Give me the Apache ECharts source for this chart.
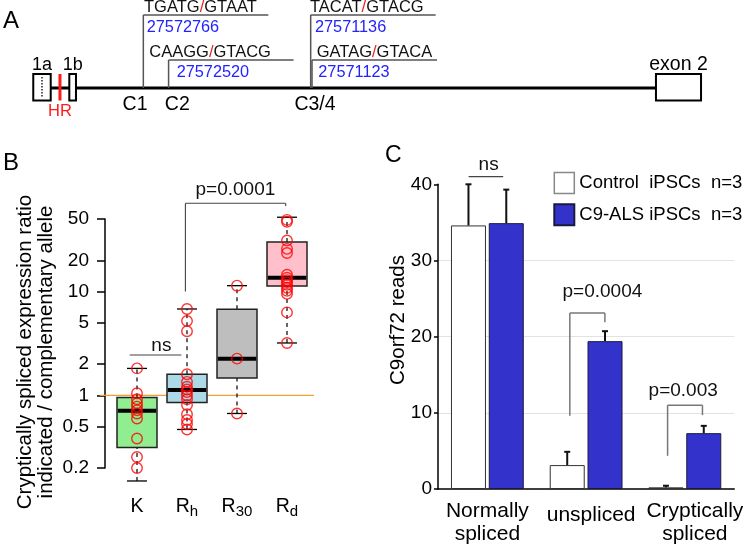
<!DOCTYPE html>
<html><head><meta charset="utf-8">
<script src="https://cdn.jsdelivr.net/npm/echarts@6/dist/echarts.min.js"></script>
<style>html,body{margin:0;padding:0;background:#fff}#c{width:746px;height:545px}</style>
</head><body><div id="c"></div>
<script>
const FONT = '"Liberation Sans", Arial, Helvetica, sans-serif';

// ---------- Panel A: C9orf72 5' region (genomic coordinates) ----------
const aRange = [27566896, 27574162];
const siteNames = ['C1', 'C2', 'C3', 'C4'];
const sitePos = [27572766, 27572520, 27571136, 27571123];
const siteSeqLeft = ['TGATG', 'CAAGG', 'TACAT', 'GATAG'];
const siteSeqRight = ['GTAAT', 'GTACG', 'GTACG', 'GTACA'];
const siteTier = [2, 1, 2, 1];
const siteLabels = ['C1', 'C2', 'C3/4'];
const siteLabelPos = [27572766, 27572520, 27571136];
const exonNames = ['1a', '1b', 'exon 2'];
const exonStart = [27573838, 27573487, 27567773];
const exonEnd = [27573668, 27573422, 27567334];
const exonDotted = [true, false, false];
const hrName = 'HR';
const hrPos = 27573578;

// ---------- Panel B: cryptic splicing ratio (log scale) ----------
const bCatMain = ['K', 'R', 'R', 'R'];
const bCatSub = ['', 'h', '30', 'd'];
const bTicks = [0.2, 0.5, 1, 2, 5, 10, 20, 50];
const bK = [1.82, 1.05, 0.92, 0.84, 0.78, 0.72, 0.67, 0.60, 0.385, 0.255, 0.20, 0.15];
const bRh = [6.8, 5.2, 4.15, 1.6, 1.35, 1.21, 1.14, 1.08, 1.0, 0.92, 0.81, 0.66, 0.58, 0.53, 0.47];
const bR30 = [11.4, 2.26, 0.67];
const bRd = [54, 52, 49, 47, 31, 25.8, 23.5, 14.5, 13.6, 12.9, 12.3, 11.6, 10.9, 10.2, 9.5, 6.3, 3.2];
// [min, Q1, median, Q3, max]
const bBoxK = [0.15, 0.315, 0.71, 0.956, 1.82];
const bBoxRh = [0.47, 0.856, 1.125, 1.6, 6.8];
const bBoxR30 = [0.67, 1.47, 2.26, 6.76, 11.4];
const bBoxRd = [3.2, 11.3, 13.6, 30, 52];
const bRef = 1;
// brackets: category positions (fractional), y values, text
const bBrLeft = [-0.146, 0.968];
const bBrRight = [0.888, 2.974];
const bBrTop = [2.45, 70.8];
const bBrLeftEnd = [2.45, 10];
const bBrRightEnd = [2.45, 66.7];
const bBrText = ['ns', 'p=0.0001'];
const bBrTextX = [0.488, 1.968];
const bBrTextY = [3.0, 95];

// ---------- Panel C: C9orf72 reads ----------
const cCats = ['Normally\nspliced', 'unspliced', 'Cryptically\nspliced'];
const cNames = ['Control  iPSCs  n=3', 'C9-ALS iPSCs  n=3'];
const cControl = [34.6, 3.14, 0.22];
const cControlErr = [5.4, 1.74, 0.21];
const cALS = [34.9, 19.41, 7.33];
const cALSErr = [4.4, 1.31, 0.96];
const cBrLeft = [-0.19, 0.835, 1.825];
const cBrRight = [0.16, 1.19, 2.178];
const cBrTop = [41, 23.1, 11.0];
const cBrLeftEnd = [41, 9.6, 4.36];
const cBrRightEnd = [41, 21.9, 9.7];
const cBrText = ['ns', 'p=0.0004', 'p=0.003'];
const cBrTextX = [0.013, 1.165, 1.983];
const cBrTextY = [42.5, 25.95, 12.86];

// ---------- styles ----------
const A_TIER = {1: 28, 2: 73};
const A_BOX = [14, -12.5];
const A_EXON_LABEL_V = 23;
const A_HR_LABEL_V = -23.7;
const A_SITE_LABEL_V = -17;
const A_SITE_ARM = 125;
const A_SEQ_DX = [0.7, -19.3, -0.7, 4.7];
const A_NUM_DX = [3.4, 8.1, 4.3, 6.3];
const A_LABEL_DX = [-8.3, 8.7, 4.3];
const BAR_W = 35, BAR_GAP = 2.8;
const BLUE = '#3333cc';

function txt(x, y, text, size, fill, align, extra) {
  return Object.assign({type: 'text', x: x, y: y, style: {
    text: text, fontSize: size, fontFamily: FONT, fill: fill || '#000',
    textAlign: align || 'center', textVerticalAlign: 'middle',
    align: align || 'center', verticalAlign: 'middle'}}, extra || {});
}
function seg(x1, y1, x2, y2, style) {
  return {type: 'line', shape: {x1: x1, y1: y1, x2: x2, y2: y2}, style: style};
}
function catX(api, cs, n, c, yv) {
  const k = Math.max(0, Math.min(n - 1, Math.round(c)));
  return api.coord([k, yv])[0] + (c - k) * cs.width / n;
}

const chart = echarts.init(document.getElementById('c'), null, {renderer: 'canvas'});

const bPoints = [bK, bRh, bR30, bRd];
const bBoxes = [bBoxK, bBoxRh, bBoxR30, bBoxRd];
const bBoxColors = ['#90ee90', '#add8e6', '#bebebe', '#ffc0cb'];

const option = {
  animation: false,
  backgroundColor: '#fff',
  textStyle: {fontFamily: FONT},
  grid: [
    {left: 0, top: 0, width: 746, height: 130},
    {left: 112, top: 219, width: 200, height: 249},
    {left: 438, top: 184.3, width: 298, height: 305.7}
  ],
  xAxis: [
    {gridIndex: 0, type: 'value', min: aRange[0], max: aRange[1], inverse: true, show: false},
    {gridIndex: 1, type: 'category', data: ['K', 'Rh', 'R30', 'Rd'],
      axisLine: {show: false}, axisTick: {show: false}, splitLine: {show: false},
      axisLabel: {margin: 27, color: '#000', interval: 0, hideOverlap: false,
        formatter: function (v, i) {
          return bCatSub[i] ? '{m|' + bCatMain[i] + '}{s|' + bCatSub[i] + '}' : '{m|' + bCatMain[i] + '}';
        },
        rich: {
          m: {fontSize: 19.5, lineHeight: 24, fontFamily: FONT, color: '#000'},
          s: {fontSize: 15, lineHeight: 12, verticalAlign: 'bottom', fontFamily: FONT, color: '#000'}
        }}},
    {gridIndex: 2, type: 'category', data: cCats,
      axisLine: {show: true, lineStyle: {color: '#000', width: 1.5}}, axisTick: {show: false},
      axisLabel: {margin: 11, color: '#000', interval: 0, hideOverlap: false,
        formatter: function (v, i) {
          const st = ['n', 'u', 'c'][i];
          return v.split('\n').map(function (s) { return '{' + st + '|' + s + '}'; }).join('\n');
        },
        rich: {
          n: {fontSize: 21, lineHeight: 23, fontFamily: FONT, color: '#000'},
          u: {fontSize: 21, lineHeight: 23, fontFamily: FONT, color: '#000', padding: [8, 0, 0, 10]},
          c: {fontSize: 21, lineHeight: 23, fontFamily: FONT, color: '#000', padding: [0, 0, 0, 20]}
        }}}
  ],
  yAxis: [
    {gridIndex: 0, type: 'value', min: -42, max: 88, show: false},
    {gridIndex: 1, type: 'log', min: 0.2, max: 50, offset: 7,
      axisLine: {show: true, lineStyle: {color: '#000', width: 1.5}},
      axisTick: {show: true, length: 8, customValues: bTicks, lineStyle: {color: '#000', width: 1.5}},
      axisLabel: {customValues: bTicks, fontSize: 19, margin: 16, color: '#000',
        formatter: function (v) { return String(+(+v).toPrecision(3)); }},
      splitLine: {show: false}, minorTick: {show: false}},
    {gridIndex: 2, type: 'value', min: 0, max: 40, interval: 10,
      axisLine: {show: true, lineStyle: {color: '#000', width: 1.5}},
      axisTick: {show: true, length: 4, lineStyle: {color: '#000', width: 1.5}},
      axisLabel: {fontSize: 19, margin: 6, color: '#000'},
      splitLine: {show: true, showMinLine: false, showMaxLine: false, lineStyle: {color: '#e2e2e2', width: 1}}}
  ],
  legend: {
    data: [{name: cNames[0], itemStyle: {borderColor: '#888', borderWidth: 1.5}}, {name: cNames[1]}],
    orient: 'vertical', left: 553.3, top: 171.7, padding: 0,
    itemWidth: 20, itemHeight: 21, itemGap: 9, icon: 'rect', selectedMode: false,
    textStyle: {fontSize: 18.5, color: '#000', fontFamily: FONT}
  },
  graphic: [
    txt(11, 21, 'A', 24),
    txt(11, 163.3, 'B', 24),
    txt(393.3, 156, 'C', 23),
    txt(35.5, 352, 'Cryptically spliced expression ratio\nindicated / complementary allele', 20.5, '#000', 'center',
      {rotation: Math.PI / 2}),
    txt(398.3, 320, 'C9orf72 reads', 20.5, '#000', 'center', {rotation: Math.PI / 2})
  ],
  series: [
    // ----- A -----
    {type: 'line', xAxisIndex: 0, yAxisIndex: 0, silent: true, symbol: 'none', z: 1,
      data: [[exonEnd[0], 0], [exonStart[2], 0]], lineStyle: {color: '#000', width: 3}},
    {type: 'custom', xAxisIndex: 0, yAxisIndex: 0, silent: true, clip: false, z: 3,
      data: exonNames.map(function (n, i) { return [exonStart[i], exonEnd[i], i]; }),
      renderItem: function (params, api) {
        const i = api.value(2);
        const p1 = api.coord([api.value(0), A_BOX[0]]);
        const p2 = api.coord([api.value(1), A_BOX[1]]);
        const x = Math.min(p1[0], p2[0]), w = Math.abs(p2[0] - p1[0]);
        const y = Math.min(p1[1], p2[1]), h = Math.abs(p2[1] - p1[1]);
        const cx = x + w / 2;
        const ly = api.coord([api.value(0), A_EXON_LABEL_V])[1];
        const ch = [
          {type: 'rect', shape: {x: x, y: y, width: w, height: h}, style: {fill: '#fff', stroke: '#000', lineWidth: 2}},
          txt(cx, ly, exonNames[i], i === 2 ? 19.5 : 18)
        ];
        if (exonDotted[i]) ch.push(seg(cx, y + 3, cx, y + h - 3, {stroke: '#000', lineWidth: 1.3, lineDash: [1.5, 1.5]}));
        return {type: 'group', children: ch};
      }},
    {type: 'custom', xAxisIndex: 0, yAxisIndex: 0, silent: true, clip: false, z: 4,
      data: [[hrPos, 0]],
      renderItem: function (params, api) {
        const a = api.coord([api.value(0), A_BOX[0]]);
        const b = api.coord([api.value(0), A_BOX[1]]);
        const l = api.coord([api.value(0), A_HR_LABEL_V]);
        return {type: 'group', children: [
          seg(a[0], a[1], b[0], b[1], {stroke: '#ff1a1a', lineWidth: 3}),
          txt(l[0], l[1], hrName, 16.5, '#ff1a1a')
        ]};
      }},
    {type: 'custom', xAxisIndex: 0, yAxisIndex: 0, silent: true, clip: false, z: 2,
      data: sitePos.map(function (p, i) { return [p, A_TIER[siteTier[i]], i]; }),
      renderItem: function (params, api) {
        const i = api.value(2);
        const base = api.coord([api.value(0), 0]);
        const top = api.coord([api.value(0), api.value(1)]);
        const ln = {stroke: '#555', lineWidth: 1.5};
        return {type: 'group', children: [
          seg(base[0], base[1], top[0], top[1], ln),
          seg(top[0], top[1], top[0] + A_SITE_ARM, top[1], ln),
          {type: 'text', x: top[0] + A_SEQ_DX[i], y: top[1] - 7.6, style: {
            text: '{s|' + siteSeqLeft[i] + '}{r|/}{s|' + siteSeqRight[i] + '}',
            textAlign: 'left', textVerticalAlign: 'middle', align: 'left', verticalAlign: 'middle',
            rich: {s: {fontSize: 16.5, fontFamily: FONT, fill: '#111'},
                   r: {fontSize: 16.5, fontFamily: FONT, fill: '#e8261c'}}}},
          txt(top[0] + A_NUM_DX[i], top[1] + 12.3, String(sitePos[i]), 16.3, '#2323ff', 'left')
        ]};
      }},
    {type: 'custom', xAxisIndex: 0, yAxisIndex: 0, silent: true, clip: false, z: 2,
      data: siteLabels.map(function (t, i) { return [siteLabelPos[i], A_SITE_LABEL_V, i]; }),
      renderItem: function (params, api) {
        const i = api.value(2);
        const p = api.coord([api.value(0), api.value(1)]);
        return txt(p[0] + A_LABEL_DX[i], p[1], siteLabels[i], 19.5);
      }},
    // ----- B -----
    {type: 'custom', xAxisIndex: 1, yAxisIndex: 1, silent: true, clip: false, z: 1,
      data: [[0, bRef]],
      renderItem: function (params, api) {
        const cs = params.coordSys;
        const y = api.coord([0, api.value(1)])[1];
        return seg(cs.x - 12, y, cs.x + cs.width + 2, y, {stroke: '#f0a030', lineWidth: 1.2});
      }},
    {type: 'custom', xAxisIndex: 1, yAxisIndex: 1, silent: true, clip: false, z: 2,
      data: bBoxes.map(function (s, i) { return [i].concat(s); }),
      renderItem: function (params, api) {
        const ci = api.value(0);
        const v = [1, 2, 3, 4, 5].map(function (k) { return api.value(k); });
        const cs = params.coordSys;
        const bw = cs.width / bCatMain.length * 0.8;
        const cx = api.coord([ci, v[2]])[0];
        const y = function (val) { return api.coord([ci, val])[1]; };
        const dash = {stroke: '#000', lineWidth: 1.2, lineDash: [4, 4]};
        const solid = {stroke: '#000', lineWidth: 1.3};
        return {type: 'group', children: [
          seg(cx, y(v[3]), cx, y(v[4]), dash),
          seg(cx, y(v[0]), cx, y(v[1]), dash),
          seg(cx - bw / 4, y(v[4]), cx + bw / 4, y(v[4]), solid),
          seg(cx - bw / 4, y(v[0]), cx + bw / 4, y(v[0]), solid),
          {type: 'rect', shape: {x: cx - bw / 2, y: y(v[3]), width: bw, height: y(v[1]) - y(v[3])},
            style: {fill: bBoxColors[ci], stroke: '#222', lineWidth: 1.5}},
          seg(cx - bw / 2 + 0.8, y(v[2]), cx + bw / 2 - 0.8, y(v[2]), {stroke: '#000', lineWidth: 4})
        ]};
      }},
    {type: 'scatter', xAxisIndex: 1, yAxisIndex: 1, silent: true, z: 3,
      symbol: 'circle', symbolSize: 10.5,
      itemStyle: {color: 'rgba(255,255,255,0)', borderColor: '#ff0000', borderWidth: 1.4},
      data: bPoints.reduce(function (acc, arr, i) { return acc.concat(arr.map(function (v) { return [i, v]; })); }, [])},
    {type: 'custom', xAxisIndex: 1, yAxisIndex: 1, silent: true, clip: false, z: 3,
      data: bBrText.map(function (t, i) { return [0, bBrTop[i], i]; }),
      renderItem: function (params, api) {
        const i = api.value(2);
        const cs = params.coordSys, n = bCatMain.length;
        const xl = catX(api, cs, n, bBrLeft[i], 1), xr = catX(api, cs, n, bBrRight[i], 1);
        const yt = api.coord([0, bBrTop[i]])[1];
        const yl = api.coord([0, bBrLeftEnd[i]])[1], yr = api.coord([0, bBrRightEnd[i]])[1];
        const st = {stroke: '#444', lineWidth: 1.1};
        return {type: 'group', children: [
          seg(xl, yl, xl, yt, st), seg(xl, yt, xr, yt, st), seg(xr, yt, xr, yr, st),
          txt(catX(api, cs, n, bBrTextX[i], 1), api.coord([0, bBrTextY[i]])[1], bBrText[i], 19, '#111')
        ]};
      }},
    // ----- C -----
    {type: 'bar', name: cNames[0], xAxisIndex: 2, yAxisIndex: 2, silent: true, z: 2,
      barWidth: BAR_W, barGap: (BAR_GAP / BAR_W * 100) + '%', data: cControl,
      itemStyle: {color: '#fff', borderColor: '#333', borderWidth: 1}},
    {type: 'bar', name: cNames[1], xAxisIndex: 2, yAxisIndex: 2, silent: true, z: 2,
      barWidth: BAR_W, barGap: (BAR_GAP / BAR_W * 100) + '%', data: cALS,
      itemStyle: {color: BLUE, borderColor: '#1a1a40', borderWidth: 1}},
    {type: 'custom', xAxisIndex: 2, yAxisIndex: 2, silent: true, clip: false, z: 3,
      data: cControl.map(function (v, i) { return [i, v, cControlErr[i], -1]; })
        .concat(cALS.map(function (v, i) { return [i, v, cALSErr[i], 1]; })),
      renderItem: function (params, api) {
        const c = api.value(0), m = api.value(1), e = api.value(2), side = api.value(3);
        const x = api.coord([c, 0])[0] + side * (BAR_W + BAR_GAP) / 2;
        const yb = api.coord([c, m])[1], yt = api.coord([c, m + e])[1];
        const st = {stroke: '#111', lineWidth: 2};
        return {type: 'group', children: [
          seg(x, yb, x, yt, st), seg(x - 3, yt, x + 3, yt, st)
        ]};
      }},
    {type: 'custom', xAxisIndex: 2, yAxisIndex: 2, silent: true, clip: false, z: 3,
      data: cBrText.map(function (t, i) { return [0, cBrTop[i], i]; }),
      renderItem: function (params, api) {
        const i = api.value(2);
        const cs = params.coordSys, n = cCats.length;
        const xl = catX(api, cs, n, cBrLeft[i], 0), xr = catX(api, cs, n, cBrRight[i], 0);
        const yt = api.coord([0, cBrTop[i]])[1];
        const yl = api.coord([0, cBrLeftEnd[i]])[1], yr = api.coord([0, cBrRightEnd[i]])[1];
        const st = {stroke: i === 0 ? '#444' : '#777', lineWidth: i === 0 ? 1.2 : 1.5};
        return {type: 'group', children: [
          seg(xl, yl, xl, yt, st), seg(xl, yt, xr, yt, st), seg(xr, yt, xr, yr, st),
          txt(catX(api, cs, n, cBrTextX[i], 0), api.coord([0, cBrTextY[i]])[1], cBrText[i], 19, '#111')
        ]};
      }}
  ]
};
chart.setOption(option);
</script>
</body></html>
